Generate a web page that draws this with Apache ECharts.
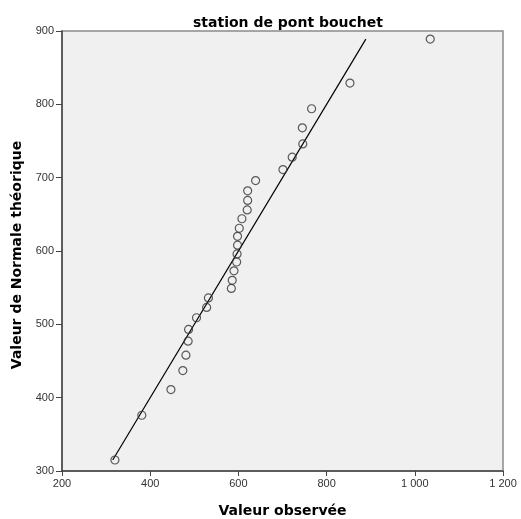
<!DOCTYPE html>
<html>
<head>
<meta charset="utf-8">
<script src="https://cdn.jsdelivr.net/npm/echarts@6/dist/echarts.min.js"></script>
<style>
  html, body { margin: 0; padding: 0; background: #ffffff; }
  #chart { width: 521px; height: 519px; }
</style>
</head>
<body>
<div id="chart"></div>
<script>
// Normal Q-Q plot: observed values vs expected normal values
const observed = [320, 381, 447, 474, 481, 486, 487, 505, 528, 532,
                  584, 586, 590, 596, 597, 598, 598, 602, 608, 620,
                  621, 621, 639, 701, 722, 746, 745, 766, 853, 1035];
const theoretical = [315, 376, 411, 437, 458, 477, 493, 509, 523, 536,
                     549, 560, 573, 585, 596, 608, 620, 631, 644, 656,
                     669, 682, 696, 711, 728, 746, 768, 794, 829, 889];
// Reference line y = x across the expected-value range
const refLine = [315, 889];

const xTicks = [200, 400, 600, 800, 1000, 1200];
const yTicks = [300, 400, 500, 600, 700, 800, 900];

const font = 'Liberation Sans, Arial, sans-serif';
const boldFont = 'DejaVu Sans, sans-serif';
const fmt = v => {
  const s = String(Math.round(v));
  return s.length > 3 ? s.slice(0, -3) + ' ' + s.slice(-3) : s;
};

const points = observed.map((x, i) => [x, theoretical[i]]);

const chart = echarts.init(document.getElementById('chart'), null, { renderer: 'canvas' });
chart.setOption({
  animation: false,
  backgroundColor: '#ffffff',
  title: {
    text: 'station de pont bouchet',
    left: 283,
    textAlign: 'center',
    top: 11,
    textStyle: { fontFamily: boldFont, fontSize: 14, fontWeight: 'bold', color: '#000' }
  },
  grid: {
    left: 62, right: 18, top: 31, bottom: 48,
    outerBoundsMode: 'none',
    containLabel: false,
    show: true,
    backgroundColor: '#f0f0f0',
    borderColor: '#8a8a8a',
    borderWidth: 1.5
  },
  xAxis: {
    type: 'value',
    min: xTicks[0], max: xTicks[xTicks.length - 1], interval: 200,
    name: 'Valeur observée',
    nameLocation: 'middle',
    nameGap: 33,
    nameTextStyle: { fontFamily: boldFont, fontSize: 14, fontWeight: 'bold', color: '#000' },
    axisLine: { show: true, onZero: false, lineStyle: { color: '#444', width: 1.5 } },
    axisTick: { show: true, inside: false, length: 5, lineStyle: { color: '#444' } },
    axisLabel: { formatter: fmt, margin: 7, fontFamily: font, fontSize: 11, color: '#333' },
    splitLine: { show: false }
  },
  yAxis: {
    type: 'value',
    min: yTicks[0], max: yTicks[yTicks.length - 1], interval: 100,
    name: 'Valeur de Normale théorique',
    nameLocation: 'middle',
    nameGap: 37,
    nameTextStyle: { fontFamily: boldFont, fontSize: 14, fontWeight: 'bold', color: '#000', padding: [0, 8, 0, 0] },
    axisLine: { show: true, onZero: false, lineStyle: { color: '#444', width: 1.5 } },
    axisTick: { show: true, inside: false, length: 6, lineStyle: { color: '#444' } },
    axisLabel: { formatter: fmt, margin: 8, fontFamily: font, fontSize: 11, color: '#333' },
    splitLine: { show: false }
  },
  series: [
    {
      type: 'line',
      data: [[refLine[0], refLine[0]], [refLine[1], refLine[1]]],
      symbol: 'none',
      lineStyle: { color: '#000', width: 1.2 },
      z: 2
    },
    {
      type: 'scatter',
      data: points,
      symbol: 'circle',
      symbolSize: 8,
      itemStyle: { color: 'rgba(0,0,0,0)', borderColor: '#333', borderWidth: 1.2 },
      z: 3
    }
  ]
});
</script>
</body>
</html>
